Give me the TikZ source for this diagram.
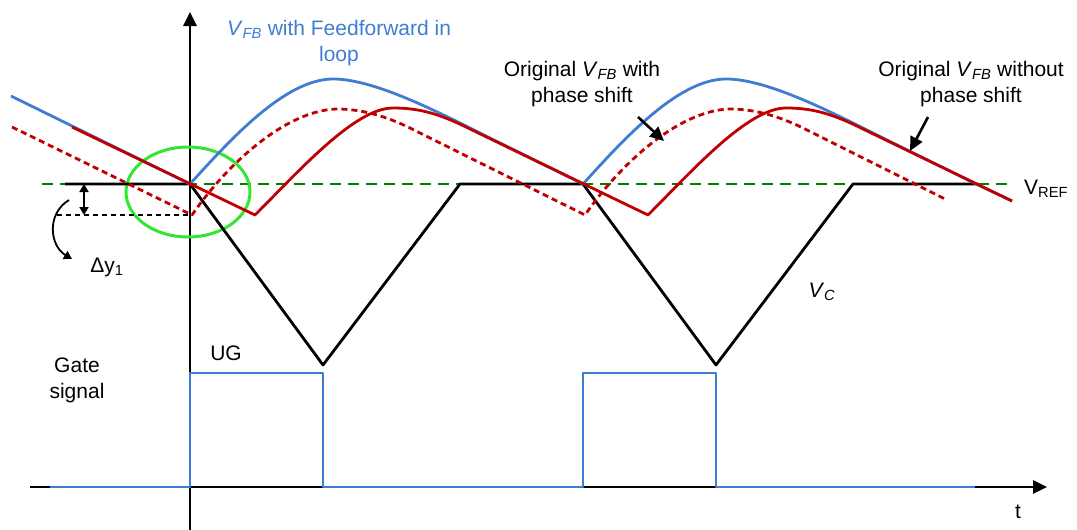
\documentclass[tikz,border=0pt]{standalone}
\usepackage{fontspec}
\setmainfont{Liberation Sans}
\usepackage{xcolor}
\usetikzlibrary{arrows.meta}
\definecolor{fbblue}{RGB}{62,125,210}
\definecolor{fbred}{RGB}{192,0,0}
\definecolor{refgreen}{RGB}{0,128,0}
\definecolor{ringgreen}{RGB}{50,230,50}
\newcommand{\vfb}{\textit{V}\textsubscript{\textit{FB}}}

\begin{document}
\begin{tikzpicture}[
    x=1pt,
    y=-1pt,
    >={Triangle[length=14pt,width=13pt]},
    axisline/.style={line width=2.6pt, black},
    wave/.style={line width=2.8pt, line join=round},
    refline/.style={line width=1.8pt, refgreen, dash pattern=on 11pt off 7pt},
    dotwave/.style={wave, fbred, dash pattern=on 6pt off 4pt},
    dotline/.style={line width=2.4pt, black, dash pattern=on 5pt off 4pt},
    ring/.style={line width=3pt, ringgreen},
    pointer/.style={->, line width=2.6pt, black},
    smallarrow/.style={line width=1.8pt, black, >={Triangle[length=8pt,width=9pt]}},
    lbl/.style={font=\fontsize{21pt}{26pt}\selectfont, inner sep=0pt, align=center},
]
\useasboundingbox (0,0) rectangle (1077,530);
% axes
\draw[axisline,->] (190,530) -- (190,12);
\draw[axisline,->] (30,487) -- (1047,487);
% reference level and ring
\draw[refline] (42,184) -- (1010,184);
\draw[ring] (188,192) ellipse [x radius=62, y radius=45];
% carrier V_C
\draw[wave, black] (65,184)
  foreach \s in {0,393}{ -- ({190+\s},184) -- ({323+\s},365) -- ({460+\s},184) }
  -- (978,184);
% gate signal
\draw[wave, fbblue] (50,487)
  foreach \s in {0,393}{ -- ({190+\s},487) -- ({190+\s},373) -- ({323+\s},373) -- ({323+\s},487) }
  -- (975,487);
% V_FB with feedforward
\draw[wave, fbblue] (11,96) -- (190,184)
  foreach \s in {0,393}{
    .. controls ({230+\s},140) and ({285+\s},79) .. ({333+\s},79)
    .. controls ({375+\s},79) and ({440+\s},113) .. ({490+\s},138)
    -- ({583+\s},184) }
  -- (1012,201);
% original V_FB with phase shift
\draw[dotwave] (12,127)
  foreach \s in {0,393}{ -- ({192+\s},215)
    .. controls ({230+\s},160) and ({290+\s},108) .. ({340+\s},109)
    .. controls ({370+\s},110) and ({395+\s},120) .. ({420+\s},133) }
  -- (947,200);
% original V_FB without phase shift
\draw[wave, fbred] (72,127)
  foreach \s in {0,393}{ -- ({255+\s},215)
    .. controls ({300+\s},170) and ({355+\s},108) .. ({393+\s},108)
    .. controls ({420+\s},108) and ({440+\s},114) .. ({470+\s},129) }
  -- (1012,201);
% delta y marker
\coordinate (dyTop) at (84,184);
\coordinate (dyBot) at (84,215);
\coordinate (dyL) at (57,215);
\coordinate (dyR) at (190,215);
\draw[dotline] (dyL) -- (dyR);
\draw[smallarrow,<->] (dyTop) -- (dyBot);
\coordinate (dyFrom) at (69,200);
\coordinate (dyTo) at (72,259);
\draw[smallarrow,->] (dyFrom) .. controls (46,214) and (50,246) .. (dyTo);
\node[lbl] (dylbl) at (107,267) {Δy\textsubscript{1}};
% labels
\node[lbl, text=fbblue] (fflbl) at (339,43) {\vfb{} with Feedforward in\\loop};
\node[lbl] (phlbl) at (582,84) {Original \vfb{} with\\phase shift};
\node[lbl] (nophlbl) at (971,84) {Original \vfb{} without\\phase shift};
\node[lbl, anchor=west] (reflbl) at (1024,189) {V\textsubscript{REF}};
\node[lbl] (vclbl) at (822,292) {\textit{V}\textsubscript{\textit{C}}};
\node[lbl] (uglbl) at (226,353) {UG};
\node[lbl] (gatelbl) at (77,380) {Gate\\signal};
\node[lbl] (tlbl) at (1018,512) {t};
% pointers
\coordinate (phTail) at (638,117);
\coordinate (phTip) at (664,141);
\draw[pointer] (phTail) -- (phTip);
\coordinate (nophTail) at (928,117);
\coordinate (nophTip) at (910,151);
\draw[pointer] (nophTail) -- (nophTip);
\end{tikzpicture}
\end{document}
